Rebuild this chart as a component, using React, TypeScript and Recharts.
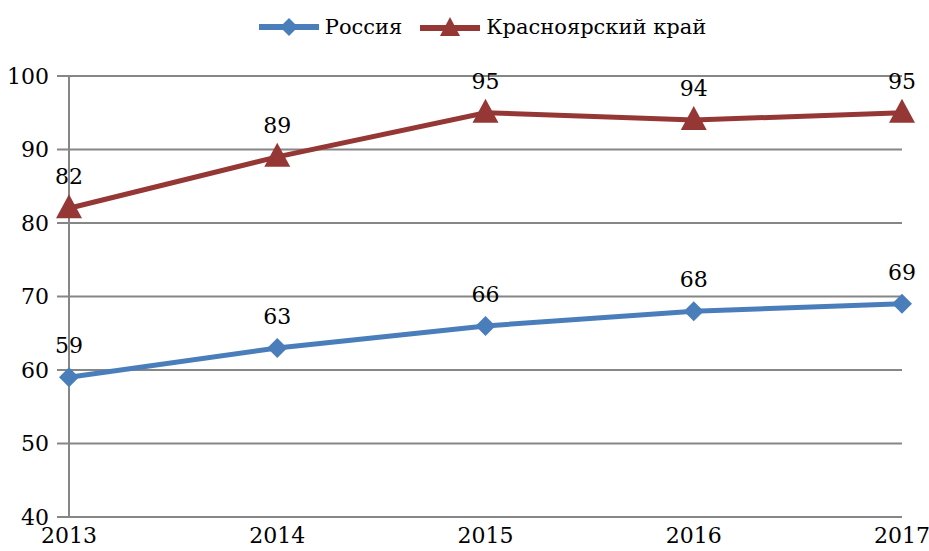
import { LineChart, Line, XAxis, YAxis, CartesianGrid, Legend, LabelList } from 'recharts';

const years = ['2013', '2014', '2015', '2016', '2017'];
const russia = [59, 63, 66, 68, 69];
const krasnoyarsk = [82, 89, 95, 94, 95];
const yTicks = [40, 50, 60, 70, 80, 90, 100];

const RUSSIA_NAME = 'Россия';
const KRAI_NAME = 'Красноярский край';

const BLUE = '#4a7ebb';
const RED = '#953735';
const GRID = '#868686';
const FONT = 'DejaVu Serif';

const data = years.map((year, i) => ({
    year,
    russia: russia[i],
    krai: krasnoyarsk[i],
}));

function Diamond(props: any) {
    const { cx, cy } = props;
    if (cx == null || cy == null) return null;
    const r = 10;
    return (
        <polygon
            points={`${cx},${cy - r} ${cx + r},${cy} ${cx},${cy + r} ${cx - r},${cy}`}
            fill={BLUE}
        />
    );
}

function Triangle(props: any) {
    const { cx, cy } = props;
    if (cx == null || cy == null) return null;
    return (
        <polygon
            points={`${cx},${cy - 14} ${cx + 13},${cy + 10} ${cx - 13},${cy + 10}`}
            fill={RED}
        />
    );
}

function LegendContent() {
    return (
        <div style={{ display: 'flex', justifyContent: 'center', alignItems: 'center', fontFamily: FONT, fontSize: 21, color: '#000' }}>
            <svg width={60} height={24} style={{ marginRight: 6 }}>
                <line x1={0} y1={12} x2={60} y2={12} stroke={BLUE} strokeWidth={6} />
                <polygon points="30,3 39,12 30,21 21,12" fill={BLUE} />
            </svg>
            <span style={{ marginRight: 18 }}>{RUSSIA_NAME}</span>
            <svg width={60} height={24} style={{ marginRight: 6 }}>
                <line x1={0} y1={13} x2={60} y2={13} stroke={RED} strokeWidth={6} />
                <polygon points="30,2 40,21 20,21" fill={RED} />
            </svg>
            <span>{KRAI_NAME}</span>
        </div>
    );
}

export default function App() {
    return (
        <div style={{ position: 'absolute', left: 0, top: 0, width: 929, height: 551, background: '#fff', fontFamily: FONT }}>
            <LineChart width={929} height={551} data={data} margin={{ top: 76, right: 27, bottom: 0, left: 0 }}>
                <CartesianGrid vertical={false} stroke={GRID} strokeWidth={2} />
                <XAxis
                    dataKey="year"
                    height={34}
                    tickLine={false}
                    tickSize={0}
                    tickMargin={10}
                    axisLine={{ stroke: GRID, strokeWidth: 2 }}
                    tick={{ fill: '#000', fontSize: 22, fontFamily: FONT }}
                    interval={0}
                />
                <YAxis
                    width={69}
                    domain={[40, 100]}
                    ticks={yTicks}
                    tickSize={12}
                    tickMargin={8}
                    tickLine={{ stroke: GRID, strokeWidth: 2 }}
                    axisLine={{ stroke: GRID, strokeWidth: 2 }}
                    tick={{ fill: '#000', fontSize: 22, fontFamily: FONT }}
                />
                <Legend
                    verticalAlign="middle"
                    layout="horizontal"
                    content={<LegendContent />}
                    wrapperStyle={{ top: 15, left: 18, width: 929 }}
                />
                <Line
                    dataKey="russia"
                    name={RUSSIA_NAME}
                    stroke={BLUE}
                    strokeWidth={5}
                    dot={<Diamond />}
                    activeDot={false}
                    isAnimationActive={false}
                >
                    <LabelList dataKey="russia" position="top" offset={24} fill="#000" fontSize={22} fontFamily={FONT} />
                </Line>
                <Line
                    dataKey="krai"
                    name={KRAI_NAME}
                    stroke={RED}
                    strokeWidth={5}
                    dot={<Triangle />}
                    activeDot={false}
                    isAnimationActive={false}
                >
                    <LabelList dataKey="krai" position="top" offset={24} fill="#000" fontSize={22} fontFamily={FONT} />
                </Line>
            </LineChart>
        </div>
    );
}
